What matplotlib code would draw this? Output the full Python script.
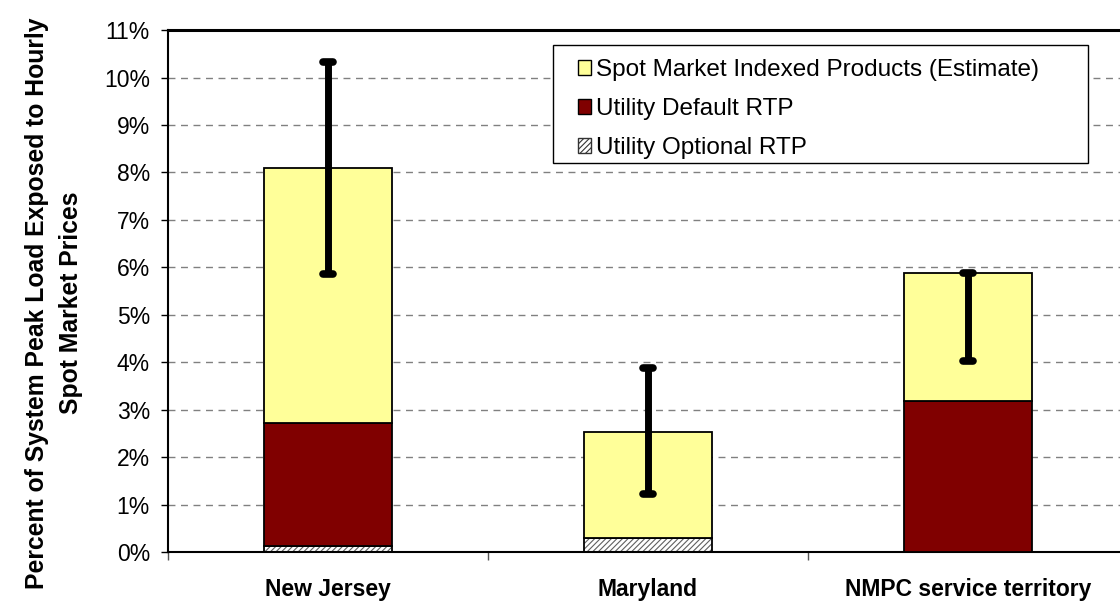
import numpy as np
import matplotlib
matplotlib.use("Agg")
import matplotlib.pyplot as plt
from matplotlib.patches import Patch, Rectangle
from matplotlib.ticker import FixedLocator, PercentFormatter

plt.rcParams["font.family"] = ["Liberation Sans", "DejaVu Sans"]
plt.rcParams["hatch.linewidth"] = 0.8

# data (percent of system peak load)
regions = ["New Jersey", "Maryland", "NMPC service territory"]
optional_rtp = [0.13, 0.30, 0.0]
default_rtp = [2.59, 0.0, 3.18]
spot_indexed = [5.37, 2.23, 2.70]
err_low = [5.87, 1.22, 4.02]
err_high = [10.33, 3.87, 5.88]

YELLOW = "#FFFF99"
DARKRED = "#800000"
HATCH_GREY = "#606060"

fig = plt.figure(figsize=(11.2, 6.02), dpi=100)
ax = fig.add_axes([0.15, 0.083, 0.857, 0.867])

x = np.arange(len(regions))
w = 0.4
opt = np.array(optional_rtp)
dft = np.array(default_rtp)
spot = np.array(spot_indexed)

# optional RTP: grey hatch, then black outline on top
ax.bar(x, opt, w, color="white", edgecolor=HATCH_GREY, hatch="//////",
       linewidth=0, zorder=2)
ax.bar(x, opt, w, fill=False, edgecolor="black", linewidth=1.3, zorder=3)
ax.bar(x, dft, w, bottom=opt, color=DARKRED, edgecolor="black",
       linewidth=1.3, zorder=3)
ax.bar(x, spot, w, bottom=opt + dft, color=YELLOW, edgecolor="black",
       linewidth=1.3, zorder=3)

# range bars
vl = ax.vlines(x, err_low, err_high, color="black", linewidth=5, zorder=4)
vl.set_capstyle("butt")
for ys in (err_low, err_high):
    cl = ax.hlines(ys, x - 0.016, x + 0.016, color="black", linewidth=5.5,
                   zorder=5)
    cl.set_capstyle("round")

ax.set_xlim(-0.5, 2.5)
ax.set_ylim(0, 11)
ax.yaxis.set_major_locator(FixedLocator(np.arange(0, 12, 1)))
ax.yaxis.set_major_formatter(PercentFormatter(decimals=0))
ax.grid(axis="y", color="#808080", linestyle=(0, (5, 4)), linewidth=1,
        zorder=0)
ax.set_axisbelow(True)

ax.set_xticks(x)
ax.set_xticklabels(regions, fontweight="bold", fontsize=16.5)
ax.set_xticks(np.arange(-0.5, 3, 1), minor=True)
ax.tick_params(axis="x", which="major", length=0, pad=19)
ax.tick_params(axis="x", which="minor", length=6, width=1, color="#555555")
ax.tick_params(axis="y", labelsize=16.5, length=5, width=1, pad=8)

for side in ("left", "bottom"):
    ax.spines[side].set_linewidth(1.5)
ax.spines["top"].set_linewidth(2.2)
ax.spines["right"].set_visible(False)

fig.text(0.048, 0.497,
         "Percent of System Peak Load Exposed to Hourly\nSpot Market Prices",
         rotation=90, ha="center", va="center", fontsize=17.8,
         fontweight="bold", linespacing=1.5)

# legend frame drawn separately so the inner padding can match
fig.patches.append(Rectangle((553 / 1120, 1 - 163 / 602), 535 / 1120,
                             118 / 602, transform=fig.transFigure,
                             facecolor="white", edgecolor="black",
                             linewidth=1, zorder=9))

handles = [
    Patch(facecolor=YELLOW, edgecolor="black", linewidth=1),
    Patch(facecolor=DARKRED, edgecolor="black", linewidth=1),
    Patch(facecolor="white", edgecolor="#333333", hatch="//////",
          linewidth=1),
]
labels = ["Spot Market Indexed Products (Estimate)", "Utility Default RTP",
          "Utility Optional RTP"]
leg = fig.legend(handles, labels, loc="upper left",
                 bbox_to_anchor=(578 / 1120, 1 - 59 / 602),
                 fontsize=17.5, frameon=False,
                 handlelength=0.55, handleheight=0.55, handletextpad=0.2,
                 labelspacing=0.7, borderpad=0, borderaxespad=0)
leg.set_zorder(10)

fig.savefig("out.png", dpi=100)
